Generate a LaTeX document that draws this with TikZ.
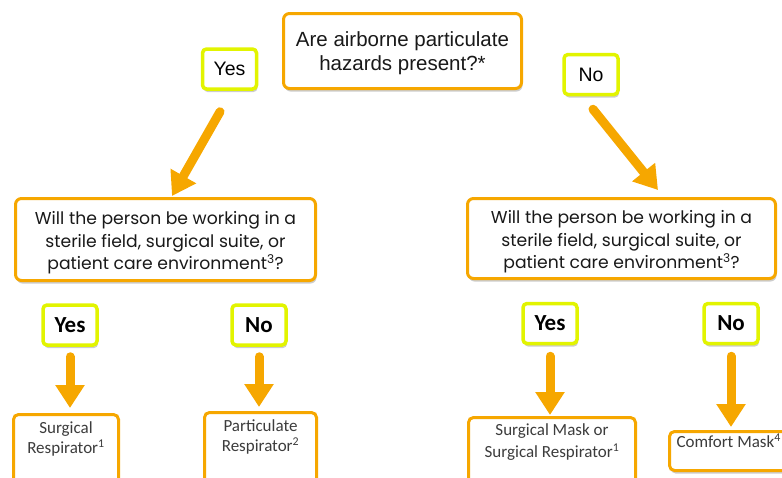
\documentclass[tikz,border=0pt]{standalone}
\usepackage{fontspec}
\setmainfont{Liberation Sans}
\newfontfamily\popf{Poppins}
\newfontfamily\carl{Carlito}
\usetikzlibrary{arrows.meta,shadows}
\definecolor{org}{RGB}{246,167,0}
\definecolor{ylw}{RGB}{226,244,0}
\definecolor{txt}{RGB}{25,25,25}
\definecolor{txtg}{RGB}{60,60,60}
\begin{document}
\begin{tikzpicture}[x=1pt,y=-1pt,
 shad/.style={drop shadow={shadow xshift=1pt,shadow yshift=-3pt,opacity=0.2,fill=black}},
 qbox/.style={draw=org,line width=3pt,rounded corners=6pt,fill=white,shad,align=center,inner sep=0pt,text=txt},
 ybox/.style={draw=ylw,line width=3.5pt,rounded corners=4pt,fill=white,shad,minimum width=54pt,minimum height=40pt,inner sep=0pt,text=black},
 abox/.style={draw=org,line width=3pt,rounded corners=5pt,fill=white,shad,align=center,inner xsep=2pt,font=\carl\fontsize{17}{20.5}\selectfont,text=txtg},
 arr/.style={draw=org,line width=9pt,line cap=round,-{Triangle[width=28pt,length=23pt]}},
 topfont/.style={font=\fontsize{19.5}{22}\selectfont},
 botfont/.style={font=\carl\bfseries\fontsize{23}{26}\selectfont},
 midfont/.style={font=\popf\fontsize{17.2}{22.5}\selectfont}
]
\useasboundingbox (0,0) rectangle (782,477);
\clip (0,0) rectangle (782,477);

% top question
\node[qbox,minimum width=238pt,minimum height=75pt,font=\fontsize{20.5}{24}\selectfont] (q0) at (402.5,51) {\rule{0pt}{19pt}Are airborne particulate\\hazards present?*};
\node[ybox,topfont] (yT) at (229.5,69) {Yes};
\node[ybox,topfont] (nT) at (591,74.5) {No};

% second-level questions
\node[qbox,minimum width=300pt,minimum height=82pt,midfont] (qL) at (165.5,239.5) {\rule{0pt}{20pt}Will the person be working in a\\sterile field, surgical suite, or\\patient care environment\textsuperscript{3}?};
\node[qbox,minimum width=308pt,minimum height=80pt,midfont] (qR) at (621.5,238.5) {\rule{0pt}{20pt}Will the person be working in a\\sterile field, surgical suite, or\\patient care environment\textsuperscript{3}?};

% answers yes/no
\node[ybox,botfont] (yL) at (70,325) {Yes};
\node[ybox,botfont] (nL) at (259,325) {No};
\node[ybox,botfont] (yR) at (550,323.5) {Yes};
\node[ybox,botfont] (nR) at (731,323.5) {No};

% outcomes
\node[abox,anchor=north,minimum width=105pt,inner ysep=7pt,text depth=50pt] (sr) at (66,413) {Surgical\\Respirator\textsuperscript{1}};
\node[abox,anchor=north,minimum width=112pt,inner ysep=7pt,text depth=50pt] (pr) at (260.5,411) {Particulate\\Respirator\textsuperscript{2}};
\node[abox,anchor=north,minimum width=167pt,inner ysep=6pt,text depth=50pt,font=\carl\fontsize{17}{22}\selectfont] (sm) at (552,416) {Surgical Mask or\\Surgical Respirator\textsuperscript{1}};
\node[abox,anchor=north west,align=flush left,text width=114pt,inner xsep=7pt,inner ysep=2pt,text height=14pt,text depth=21pt] (cm) at (668,430) {Comfort Mask\textsuperscript{4}};

% arrows
\draw[arr] ([xshift=-9.5pt,yshift=-21pt]yT.south) -- ([xshift=6.5pt,yshift=1pt]qL.north);
\draw[arr] ([xshift=2pt,yshift=-13pt]nT.south) -- ([xshift=36.5pt,yshift=7pt]qR.north);
\draw[arr,shorten <=10pt,shorten >=5pt] (yL.south) -- (yL.south |- sr.north);
\draw[arr,shorten <=10pt,shorten >=4pt] (nL.south) -- (nL.south |- pr.north);
\draw[arr,shorten <=11pt,shorten >=1pt] (yR.south) -- (yR.south |- sm.north);
\draw[arr,shorten <=11pt,shorten >=3pt] (nR.south) -- (nR.south |- cm.north);
\end{tikzpicture}
\end{document}
